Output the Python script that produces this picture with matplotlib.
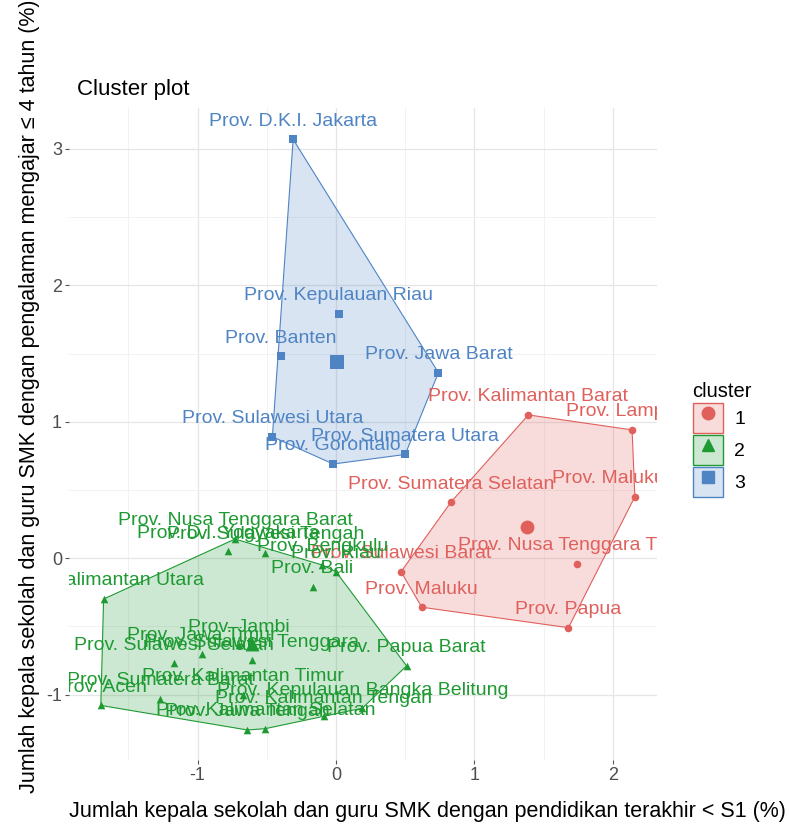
import numpy as np
import matplotlib
matplotlib.use('Agg')
import matplotlib.pyplot as plt
from matplotlib.patches import Patch, Polygon
from matplotlib.lines import Line2D
from matplotlib.legend_handler import HandlerTuple

plt.rcParams['font.family'] = ['Liberation Sans', 'DejaVu Sans']
plt.rcParams['axes.unicode_minus'] = False

# cluster 1 (red)
c1_names = ["Prov. Kalimantan Barat", "Prov. Lampung", "Prov. Maluku Utara",
            "Prov. Sumatera Selatan", "Prov. Nusa Tenggara Timur",
            "Prov. Sulawesi Barat", "Prov. Maluku", "Prov. Papua"]
c1_x = [1.39, 2.14, 2.16, 0.83, 1.74, 0.47, 0.62, 1.68]
c1_y = [1.05, 0.94, 0.45, 0.41, -0.04, -0.10, -0.36, -0.51]

# cluster 2 (green)
c2_names = ["Prov. Aceh", "Prov. Sumatera Barat", "Prov. Riau", "Prov. Jambi",
            "Prov. Bengkulu", "Prov. Kepulauan Bangka Belitung", "Prov. Jawa Tengah",
            "Prov. D.I. Yogyakarta", "Prov. Jawa Timur", "Prov. Bali",
            "Prov. Nusa Tenggara Barat", "Prov. Kalimantan Tengah",
            "Prov. Kalimantan Selatan", "Prov. Kalimantan Timur",
            "Prov. Kalimantan Utara", "Prov. Sulawesi Tengah",
            "Prov. Sulawesi Selatan", "Prov. Sulawesi Tenggara", "Prov. Papua Barat"]
c2_x = [-1.70, -1.27, 0.00, -0.70, -0.10, 0.19, -0.64, -0.78, -0.97, -0.17,
        -0.73, -0.09, -0.51, -0.67, -1.68, -0.51, -1.17, -0.61, 0.51]
c2_y = [-1.08, -1.03, -0.10, -0.64, -0.05, -1.10, -1.26, 0.05, -0.70, -0.21,
        0.14, -1.16, -1.25, -1.00, -0.30, 0.04, -0.77, -0.75, -0.79]

# cluster 3 (blue)
c3_names = ["Prov. D.K.I. Jakarta", "Prov. Kepulauan Riau", "Prov. Banten",
            "Prov. Jawa Barat", "Prov. Sulawesi Utara", "Prov. Sumatera Utara",
            "Prov. Gorontalo"]
c3_x = [-0.31, 0.02, -0.40, 0.74, -0.46, 0.50, -0.02]
c3_y = [3.07, 1.79, 1.48, 1.36, 0.89, 0.76, 0.69]

clusters = [
    ("1", c1_names, c1_x, c1_y, "#E0605C", "o"),
    ("2", c2_names, c2_x, c2_y, "#1E9A32", "^"),
    ("3", c3_names, c3_x, c3_y, "#4F84C4", "s"),
]


def convex_hull(xs, ys):
    pts = sorted(zip(xs, ys))

    def cross(o, a, b):
        return (a[0] - o[0]) * (b[1] - o[1]) - (a[1] - o[1]) * (b[0] - o[0])

    lower = []
    for p in pts:
        while len(lower) >= 2 and cross(lower[-2], lower[-1], p) <= 0:
            lower.pop()
        lower.append(p)
    upper = []
    for p in reversed(pts):
        while len(upper) >= 2 and cross(upper[-2], upper[-1], p) <= 0:
            upper.pop()
        upper.append(p)
    return lower[:-1] + upper[:-1]


fig = plt.figure(figsize=(7.89, 8.31), dpi=100)
ax = fig.add_axes([69 / 789, 71 / 831, 588 / 789, 652 / 831])
ax.set_facecolor('white')
for s in ax.spines.values():
    s.set_visible(False)

ax.set_xlim(-1.93, 2.32)
ax.set_ylim(-1.48, 3.30)
ax.set_xticks([-1, 0, 1, 2])
ax.set_yticks([-1, 0, 1, 2, 3])
ax.set_xticks(np.arange(-1.5, 2.5, 1.0), minor=True)
ax.set_yticks(np.arange(-0.5, 3.0, 1.0), minor=True)
ax.grid(which='major', color='#E6E6E6', lw=0.9)
ax.grid(which='minor', color='#F0F0F0', lw=0.6)
ax.set_axisbelow(True)
ax.tick_params(which='major', length=3, width=0.8, color='#555555',
               labelsize=13, labelcolor='#4D4D4D', pad=2)
ax.tick_params(which='minor', length=0)

for lab, names, xs, ys, col, mk in clusters:
    hp = convex_hull(xs, ys)
    ax.add_patch(Polygon(hp, closed=True, facecolor=col, alpha=0.22, edgecolor='none', zorder=1))
    ax.add_patch(Polygon(hp, closed=True, facecolor='none', edgecolor=col, lw=0.8, zorder=2))
    ax.scatter(xs, ys, marker=mk, s=30, color=col, zorder=3, linewidths=0)
    ax.scatter([np.mean(xs)], [np.mean(ys)], marker=mk, s=100, color=col, zorder=3, linewidths=0)

for lab, names, xs, ys, col, mk in clusters:
    for n, x, y in zip(names, xs, ys):
        t = ax.annotate(n, (x, y), xytext=(0, 13), textcoords='offset points',
                        ha='center', va='center', fontsize=14, color=col, zorder=4)
        t.set_clip_on(True)
        t.set_clip_box(ax.bbox)

fig.text(77 / 789, 1 - 90 / 831, "Cluster plot", fontsize=16, ha='left', va='center')
fig.text(427 / 789, 1 - 812 / 831,
         "Jumlah kepala sekolah dan guru SMK dengan pendidikan terakhir < S1 (%)",
         fontsize=15.5, ha='center', va='center')
fig.text(30 / 789, 1 - 396 / 831,
         "Jumlah kepala sekolah dan guru SMK dengan pengalaman mengajar \u2264 4 tahun (%)",
         fontsize=15.5, ha='center', va='center', rotation=90)

handles = []
for lab, names, xs, ys, col, mk in clusters:
    box = Patch(facecolor=col, alpha=0.22, edgecolor='none')
    edge = Patch(facecolor='none', edgecolor=col, lw=1)
    m = Line2D([], [], marker=mk, color=col, linestyle='none', markersize=9)
    handles.append((box, edge, m))
leg = fig.legend(handles, ["1", "2", "3"], title="cluster",
                 handler_map={tuple: HandlerTuple(ndivide=1, pad=0)},
                 loc='upper left', bbox_to_anchor=(679 / 789, 1 - 368 / 831),
                 frameon=False, fontsize=14, title_fontsize=14.5,
                 handlelength=1.54, handleheight=2.0, handletextpad=0.6,
                 labelspacing=0.1, borderpad=0.2, alignment='left')

fig.savefig('out.png', dpi=100)
